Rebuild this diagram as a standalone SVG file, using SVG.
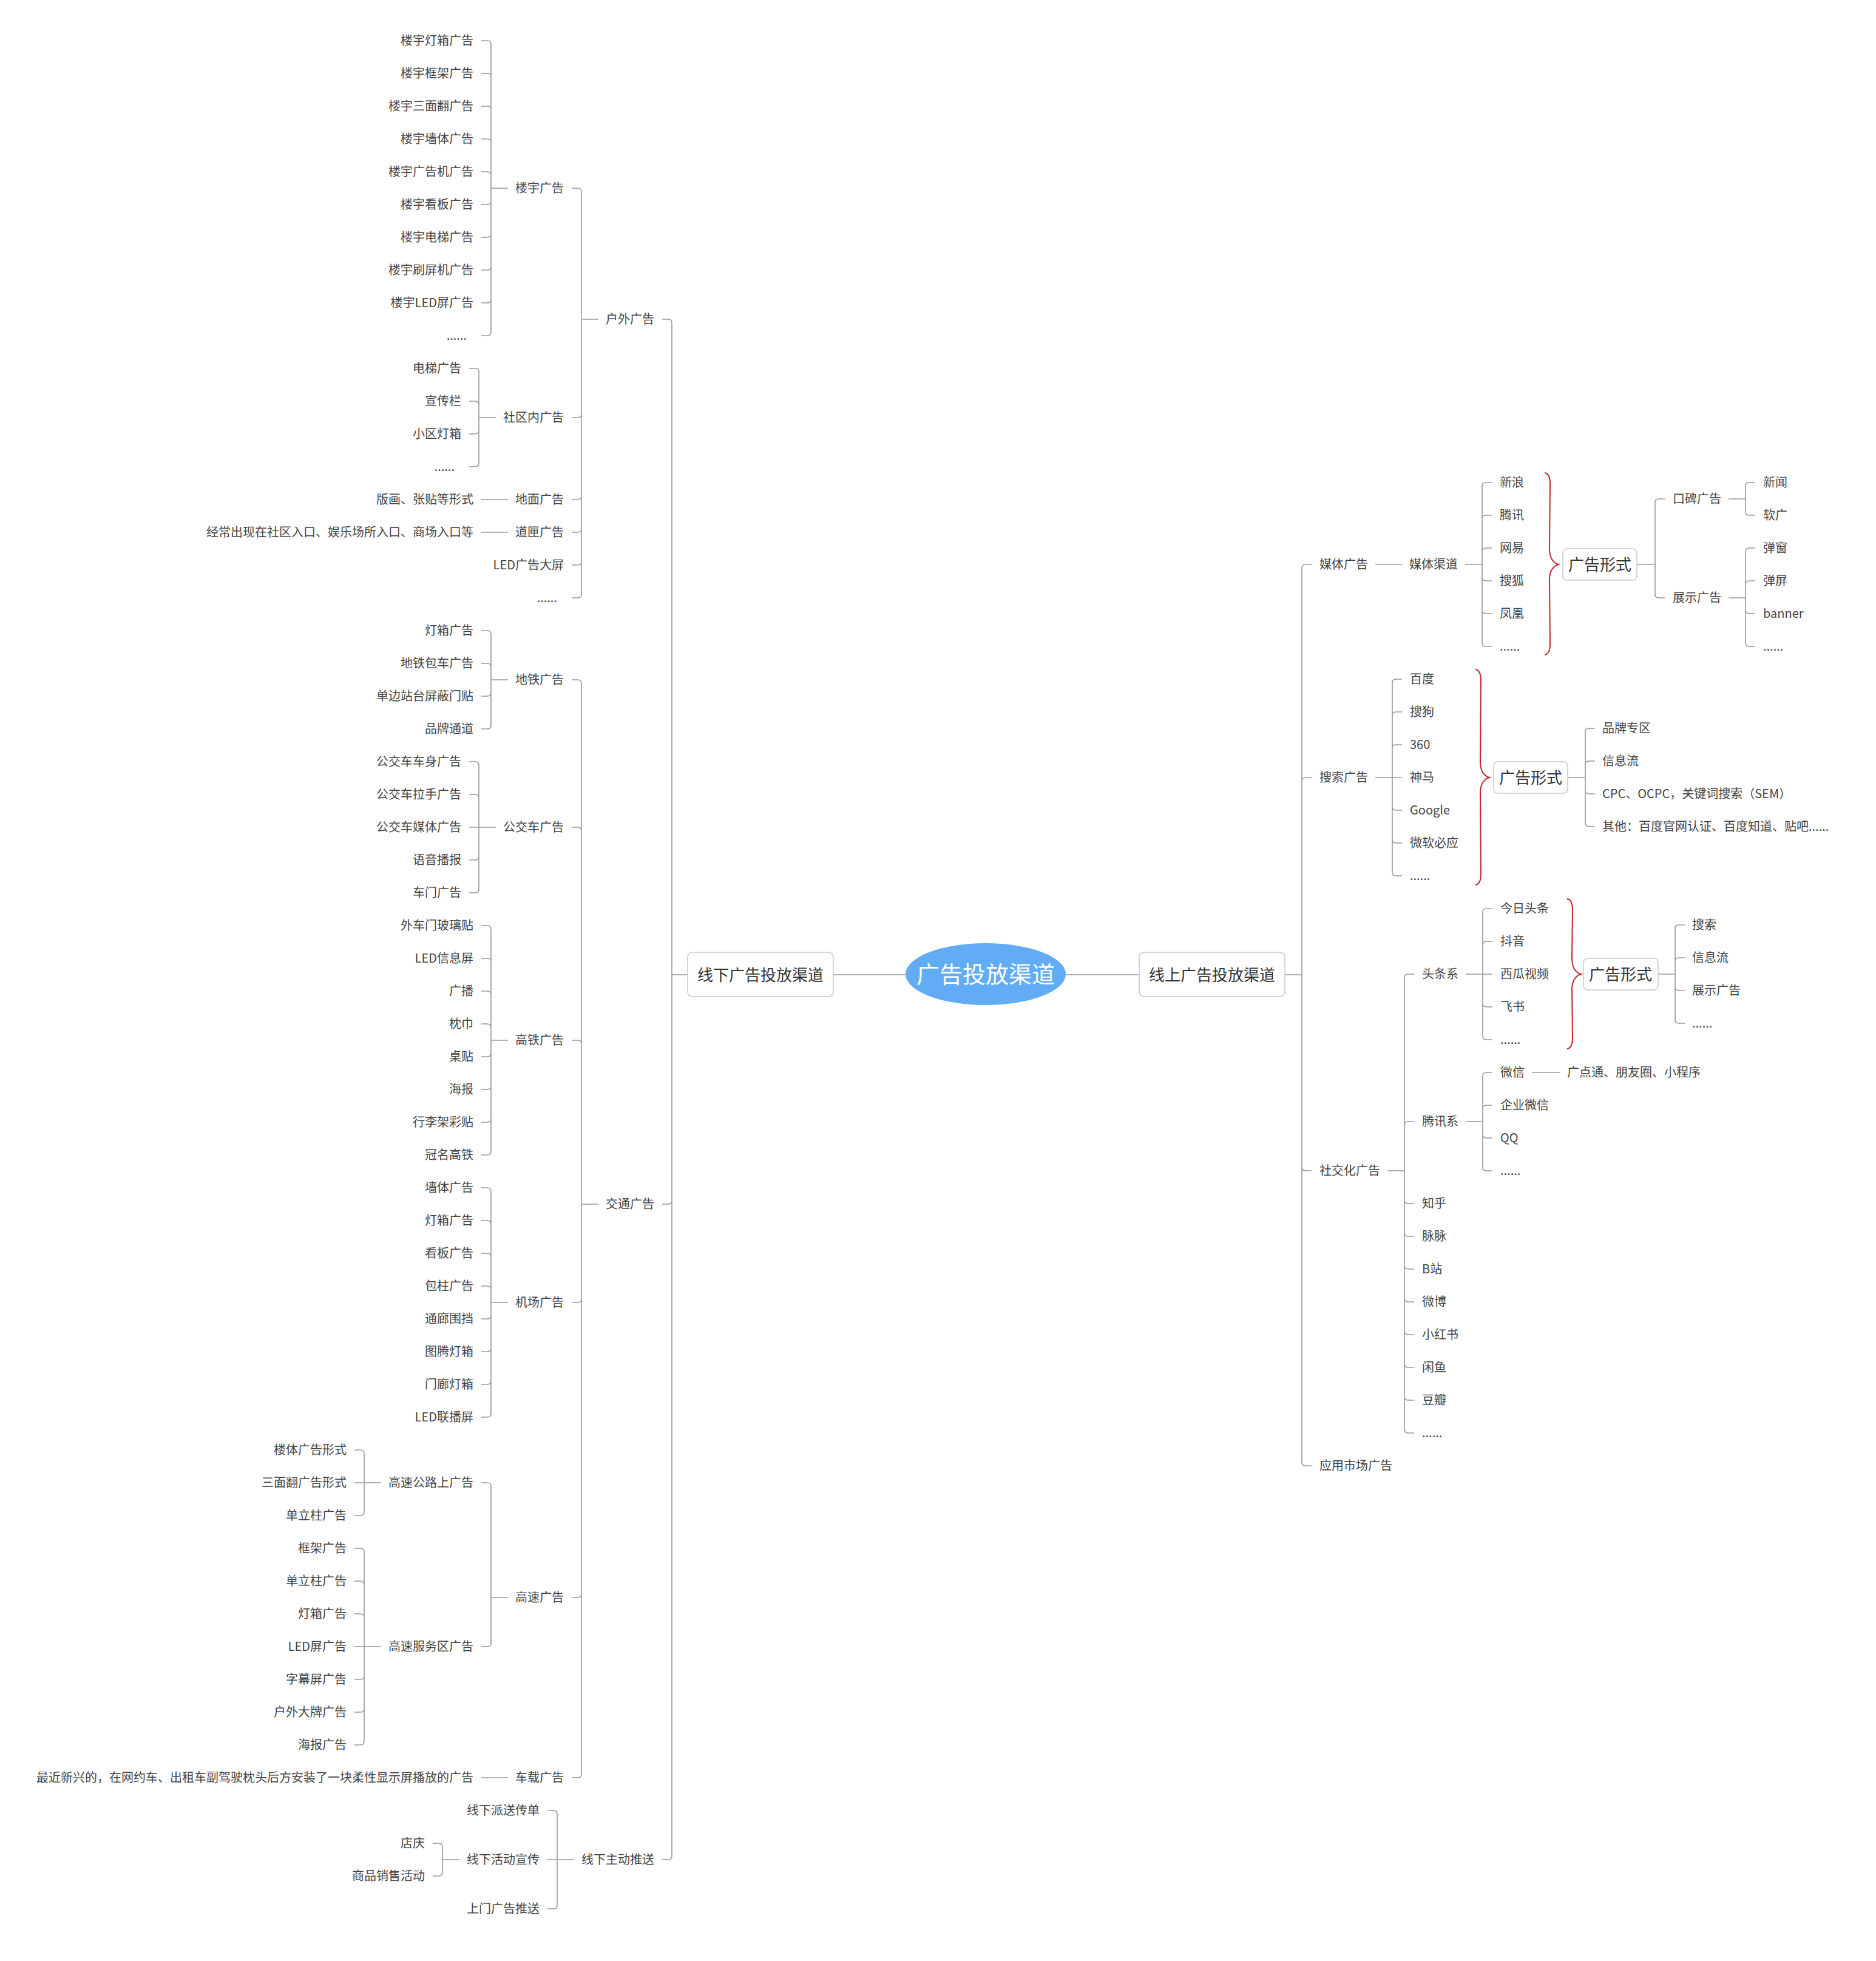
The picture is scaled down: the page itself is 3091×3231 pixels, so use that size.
<svg xmlns="http://www.w3.org/2000/svg" width="3091" height="3231" viewBox="0 0 3091 3231">
<style>
text{font-family:"Noto Sans CJK SC","Microsoft YaHei","Liberation Sans",sans-serif;fill:#444;font-size:20px}
.e{text-anchor:end}
.m{text-anchor:middle}
.big{font-size:26px;fill:#333}
.root{font-size:38px;fill:#fff}
.c{fill:none;stroke:#999;stroke-width:1.6}
.br{fill:none;stroke:#c1272d;stroke-width:2}
.box{fill:#fff;stroke:#c8c8c8;stroke-width:1.5}
</style>
<rect width="3091" height="3231" fill="#fff"/>
<g id="connectors">
<path class="c" d="M1373 1606H1492M1756 1606H1877"/>
<path class="c" d="M1133 1606H1107V532Q1107 526 1101 526H1091M1133 1606H1107V1978Q1107 1984 1101 1984H1091M1133 1606H1107V3058Q1107 3064 1101 3064H1091"/>
<path class="c" d="M986 526H958V316Q958 310 952 310H942M986 526H958V682Q958 688 952 688H942M986 526H958V817Q958 823 952 823H942M986 526H958V871Q958 877 952 877H942M986 526H958V925Q958 931 952 931H942M986 526H958V979Q958 985 952 985H942"/>
<path class="c" d="M837 310H809V73Q809 67 803 67H793M837 310H809V127Q809 121 803 121H793M837 310H809V181Q809 175 803 175H793M837 310H809V235Q809 229 803 229H793M837 310H809V289Q809 283 803 283H793M837 310H809V331Q809 337 803 337H793M837 310H809V385Q809 391 803 391H793M837 310H809V439Q809 445 803 445H793M837 310H809V493Q809 499 803 499H793M837 310H809V547Q809 553 803 553H793"/>
<path class="c" d="M817 688H789V613Q789 607 783 607H773M817 688H789V667Q789 661 783 661H773M817 688H789V709Q789 715 783 715H773M817 688H789V763Q789 769 783 769H773"/>
<path class="c" d="M837 823H793M837 877H793"/>
<path class="c" d="M986 1984H958V1126Q958 1120 952 1120H942M986 1984H958V1369Q958 1363 952 1363H942M986 1984H958V1720Q958 1714 952 1714H942M986 1984H958V2140Q958 2146 952 2146H942M986 1984H958V2626Q958 2632 952 2632H942M986 1984H958V2923Q958 2929 952 2929H942"/>
<path class="c" d="M837 1120H809V1045Q809 1039 803 1039H793M837 1120H809V1099Q809 1093 803 1093H793M837 1120H809V1141Q809 1147 803 1147H793M837 1120H809V1195Q809 1201 803 1201H793"/>
<path class="c" d="M817 1363H789V1261Q789 1255 783 1255H773M817 1363H789V1315Q789 1309 783 1309H773M817 1363H773M817 1363H789V1411Q789 1417 783 1417H773M817 1363H789V1465Q789 1471 783 1471H773"/>
<path class="c" d="M837 1714H809V1531Q809 1525 803 1525H793M837 1714H809V1585Q809 1579 803 1579H793M837 1714H809V1639Q809 1633 803 1633H793M837 1714H809V1693Q809 1687 803 1687H793M837 1714H809V1735Q809 1741 803 1741H793M837 1714H809V1789Q809 1795 803 1795H793M837 1714H809V1843Q809 1849 803 1849H793M837 1714H809V1897Q809 1903 803 1903H793"/>
<path class="c" d="M837 2146H809V1963Q809 1957 803 1957H793M837 2146H809V2017Q809 2011 803 2011H793M837 2146H809V2071Q809 2065 803 2065H793M837 2146H809V2125Q809 2119 803 2119H793M837 2146H809V2167Q809 2173 803 2173H793M837 2146H809V2221Q809 2227 803 2227H793M837 2146H809V2275Q809 2281 803 2281H793M837 2146H809V2329Q809 2335 803 2335H793"/>
<path class="c" d="M837 2632H809V2449Q809 2443 803 2443H793M837 2632H809V2707Q809 2713 803 2713H793"/>
<path class="c" d="M628 2443H600V2395Q600 2389 594 2389H584M628 2443H584M628 2443H600V2491Q600 2497 594 2497H584"/>
<path class="c" d="M628 2713H600V2557Q600 2551 594 2551H584M628 2713H600V2611Q600 2605 594 2605H584M628 2713H600V2665Q600 2659 594 2659H584M628 2713H584M628 2713H600V2761Q600 2767 594 2767H584M628 2713H600V2815Q600 2821 594 2821H584M628 2713H600V2869Q600 2875 594 2875H584"/>
<path class="c" d="M837 2929H793"/>
<path class="c" d="M946 3064H918V2989Q918 2983 912 2983H902M946 3064H902M946 3064H918V3139Q918 3145 912 3145H902"/>
<path class="c" d="M757 3064H729V3043Q729 3037 723 3037H713M757 3064H729V3085Q729 3091 723 3091H713"/>
<path class="c" d="M2117 1606H2145V936Q2145 930 2151 930H2161M2117 1606H2145V1287Q2145 1281 2151 1281H2161M2117 1606H2145V1923Q2145 1929 2151 1929H2161M2117 1606H2145V2409Q2145 2415 2151 2415H2161"/>
<path class="c" d="M2266 930H2310"/>
<path class="c" d="M2414 930H2442V801Q2442 795 2448 795H2458M2414 930H2442V855Q2442 849 2448 849H2458M2414 930H2442V909Q2442 903 2448 903H2458M2414 930H2442V951Q2442 957 2448 957H2458M2414 930H2442V1005Q2442 1011 2448 1011H2458M2414 930H2442V1059Q2442 1065 2448 1065H2458"/>
<path class="c" d="M2697 930H2727V828Q2727 822 2733 822H2743M2697 930H2727V979Q2727 985 2733 985H2743"/>
<path class="c" d="M2848 822H2876V801Q2876 795 2882 795H2892M2848 822H2876V843Q2876 849 2882 849H2892"/>
<path class="c" d="M2848 985H2876V909Q2876 903 2882 903H2892M2848 985H2876V963Q2876 957 2882 957H2892M2848 985H2876V1005Q2876 1011 2882 1011H2892M2848 985H2876V1059Q2876 1065 2882 1065H2892"/>
<path class="c" d="M2266 1281H2294V1125Q2294 1119 2300 1119H2310M2266 1281H2294V1179Q2294 1173 2300 1173H2310M2266 1281H2294V1233Q2294 1227 2300 1227H2310M2266 1281H2310M2266 1281H2294V1329Q2294 1335 2300 1335H2310M2266 1281H2294V1383Q2294 1389 2300 1389H2310M2266 1281H2294V1437Q2294 1443 2300 1443H2310"/>
<path class="c" d="M2583 1281H2612V1206Q2612 1200 2618 1200H2628M2583 1281H2612V1260Q2612 1254 2618 1254H2628M2583 1281H2612V1302Q2612 1308 2618 1308H2628M2583 1281H2612V1356Q2612 1362 2618 1362H2628"/>
<path class="c" d="M2286 1929H2314V1611Q2314 1605 2320 1605H2330M2286 1929H2314V1854Q2314 1848 2320 1848H2330M2286 1929H2314V1977Q2314 1983 2320 1983H2330M2286 1929H2314V2031Q2314 2037 2320 2037H2330M2286 1929H2314V2085Q2314 2091 2320 2091H2330M2286 1929H2314V2139Q2314 2145 2320 2145H2330M2286 1929H2314V2193Q2314 2199 2320 2199H2330M2286 1929H2314V2247Q2314 2253 2320 2253H2330M2286 1929H2314V2301Q2314 2307 2320 2307H2330M2286 1929H2314V2355Q2314 2361 2320 2361H2330"/>
<path class="c" d="M2415 1605H2443V1503Q2443 1497 2449 1497H2459M2415 1605H2443V1557Q2443 1551 2449 1551H2459M2415 1605H2459M2415 1605H2443V1653Q2443 1659 2449 1659H2459M2415 1605H2443V1707Q2443 1713 2449 1713H2459"/>
<path class="c" d="M2732 1605H2760V1530Q2760 1524 2766 1524H2776M2732 1605H2760V1584Q2760 1578 2766 1578H2776M2732 1605H2760V1626Q2760 1632 2766 1632H2776M2732 1605H2760V1680Q2760 1686 2766 1686H2776"/>
<path class="c" d="M2415 1848H2443V1773Q2443 1767 2449 1767H2459M2415 1848H2443V1827Q2443 1821 2449 1821H2459M2415 1848H2443V1869Q2443 1875 2449 1875H2459M2415 1848H2443V1923Q2443 1929 2449 1929H2459"/>
<path class="c" d="M2524 1767H2570"/>
<path class="br" d="M2545 779Q2554 780 2554 798L2553 906Q2554 926 2568 930Q2554 934 2553 954L2554 1060Q2554 1078 2545 1079"/>
<path class="br" d="M2431 1103Q2440 1104 2440 1122L2439 1257Q2440 1277 2454 1281Q2440 1285 2439 1305L2440 1440Q2440 1457 2431 1458"/>
<path class="br" d="M2582 1481Q2591 1482 2591 1500L2590 1581Q2591 1601 2605 1605Q2591 1609 2590 1629L2591 1710Q2591 1727 2582 1728"/>
</g>
<g id="root"><ellipse cx="1624" cy="1605" rx="132" ry="51" fill="#62acf5"/><text class="root m" x="1624" y="1619">广告投放渠道</text></g>
<g id="offline"><rect class="box" x="1133" y="1569" width="240" height="73" rx="8"/><text class="big m" x="1253" y="1616">线下广告投放渠道</text></g>
<g id="online"><rect class="box" x="1877" y="1569" width="240" height="73" rx="8"/><text class="big m" x="1997" y="1616">线上广告投放渠道</text></g>
<g id="off-outdoor"><text class="e" x="1078" y="533">户外广告</text></g>
<g id="off-traffic"><text class="e" x="1078" y="1991">交通广告</text></g>
<g id="off-active"><text class="e" x="1078" y="3071">线下主动推送</text></g>
<g id="od-building"><text class="e" x="929" y="317">楼宇广告</text></g>
<g id="od-building-1"><text class="e" x="780" y="74">楼宇灯箱广告</text></g>
<g id="od-building-2"><text class="e" x="780" y="128">楼宇框架广告</text></g>
<g id="od-building-3"><text class="e" x="780" y="182">楼宇三面翻广告</text></g>
<g id="od-building-4"><text class="e" x="780" y="236">楼宇墙体广告</text></g>
<g id="od-building-5"><text class="e" x="780" y="290">楼宇广告机广告</text></g>
<g id="od-building-6"><text class="e" x="780" y="344">楼宇看板广告</text></g>
<g id="od-building-7"><text class="e" x="780" y="398">楼宇电梯广告</text></g>
<g id="od-building-8"><text class="e" x="780" y="452">楼宇刷屏机广告</text></g>
<g id="od-building-9"><text class="e" x="780" y="506">楼宇LED屏广告</text></g>
<g id="od-building-10"><text class="e" x="769" y="560">......</text></g>
<g id="od-community"><text class="e" x="929" y="695">社区内广告</text></g>
<g id="od-community-1"><text class="e" x="760" y="614">电梯广告</text></g>
<g id="od-community-2"><text class="e" x="760" y="668">宣传栏</text></g>
<g id="od-community-3"><text class="e" x="760" y="722">小区灯箱</text></g>
<g id="od-community-4"><text class="e" x="749" y="776">......</text></g>
<g id="od-ground"><text class="e" x="929" y="830">地面广告</text></g>
<g id="od-ground-1"><text class="e" x="780" y="830">版画、张贴等形式</text></g>
<g id="od-gate"><text class="e" x="929" y="884">道匣广告</text></g>
<g id="od-gate-1"><text class="e" x="780" y="884">经常出现在社区入口、娱乐场所入口、商场入口等</text></g>
<g id="od-led"><text class="e" x="929" y="938">LED广告大屏</text></g>
<g id="od-more"><text class="e" x="918" y="992">......</text></g>
<g id="tr-metro"><text class="e" x="929" y="1127">地铁广告</text></g>
<g id="tr-metro-1"><text class="e" x="780" y="1046">灯箱广告</text></g>
<g id="tr-metro-2"><text class="e" x="780" y="1100">地铁包车广告</text></g>
<g id="tr-metro-3"><text class="e" x="780" y="1154">单边站台屏蔽门贴</text></g>
<g id="tr-metro-4"><text class="e" x="780" y="1208">品牌通道</text></g>
<g id="tr-bus"><text class="e" x="929" y="1370">公交车广告</text></g>
<g id="tr-bus-1"><text class="e" x="760" y="1262">公交车车身广告</text></g>
<g id="tr-bus-2"><text class="e" x="760" y="1316">公交车拉手广告</text></g>
<g id="tr-bus-3"><text class="e" x="760" y="1370">公交车媒体广告</text></g>
<g id="tr-bus-4"><text class="e" x="760" y="1424">语音播报</text></g>
<g id="tr-bus-5"><text class="e" x="760" y="1478">车门广告</text></g>
<g id="tr-rail"><text class="e" x="929" y="1721">高铁广告</text></g>
<g id="tr-rail-1"><text class="e" x="780" y="1532">外车门玻璃贴</text></g>
<g id="tr-rail-2"><text class="e" x="780" y="1586">LED信息屏</text></g>
<g id="tr-rail-3"><text class="e" x="780" y="1640">广播</text></g>
<g id="tr-rail-4"><text class="e" x="780" y="1694">枕巾</text></g>
<g id="tr-rail-5"><text class="e" x="780" y="1748">桌贴</text></g>
<g id="tr-rail-6"><text class="e" x="780" y="1802">海报</text></g>
<g id="tr-rail-7"><text class="e" x="780" y="1856">行李架彩贴</text></g>
<g id="tr-rail-8"><text class="e" x="780" y="1910">冠名高铁</text></g>
<g id="tr-air"><text class="e" x="929" y="2153">机场广告</text></g>
<g id="tr-air-1"><text class="e" x="780" y="1964">墙体广告</text></g>
<g id="tr-air-2"><text class="e" x="780" y="2018">灯箱广告</text></g>
<g id="tr-air-3"><text class="e" x="780" y="2072">看板广告</text></g>
<g id="tr-air-4"><text class="e" x="780" y="2126">包柱广告</text></g>
<g id="tr-air-5"><text class="e" x="780" y="2180">通廊围挡</text></g>
<g id="tr-air-6"><text class="e" x="780" y="2234">图腾灯箱</text></g>
<g id="tr-air-7"><text class="e" x="780" y="2288">门廊灯箱</text></g>
<g id="tr-air-8"><text class="e" x="780" y="2342">LED联播屏</text></g>
<g id="tr-hw"><text class="e" x="929" y="2639">高速广告</text></g>
<g id="tr-hw-road"><text class="e" x="780" y="2450">高速公路上广告</text></g>
<g id="tr-hw-road-1"><text class="e" x="571" y="2396">楼体广告形式</text></g>
<g id="tr-hw-road-2"><text class="e" x="571" y="2450">三面翻广告形式</text></g>
<g id="tr-hw-road-3"><text class="e" x="571" y="2504">单立柱广告</text></g>
<g id="tr-hw-svc"><text class="e" x="780" y="2720">高速服务区广告</text></g>
<g id="tr-hw-svc-1"><text class="e" x="571" y="2558">框架广告</text></g>
<g id="tr-hw-svc-2"><text class="e" x="571" y="2612">单立柱广告</text></g>
<g id="tr-hw-svc-3"><text class="e" x="571" y="2666">灯箱广告</text></g>
<g id="tr-hw-svc-4"><text class="e" x="571" y="2720">LED屏广告</text></g>
<g id="tr-hw-svc-5"><text class="e" x="571" y="2774">字幕屏广告</text></g>
<g id="tr-hw-svc-6"><text class="e" x="571" y="2828">户外大牌广告</text></g>
<g id="tr-hw-svc-7"><text class="e" x="571" y="2882">海报广告</text></g>
<g id="tr-car"><text class="e" x="929" y="2936">车载广告</text></g>
<g id="tr-car-1"><text class="e" x="780" y="2936">最近新兴的，在网约车、出租车副驾驶枕头后方安装了一块柔性显示屏播放的广告</text></g>
<g id="ac-flyer"><text class="e" x="889" y="2990">线下派送传单</text></g>
<g id="ac-event"><text class="e" x="889" y="3071">线下活动宣传</text></g>
<g id="ac-event-1"><text class="e" x="700" y="3044">店庆</text></g>
<g id="ac-event-2"><text class="e" x="700" y="3098">商品销售活动</text></g>
<g id="ac-door"><text class="e" x="889" y="3152">上门广告推送</text></g>
<g id="on-media"><text x="2174" y="937">媒体广告</text></g>
<g id="on-media-ch"><text x="2322" y="937">媒体渠道</text></g>
<g id="md-1"><text x="2471" y="802">新浪</text></g>
<g id="md-2"><text x="2471" y="856">腾讯</text></g>
<g id="md-3"><text x="2471" y="910">网易</text></g>
<g id="md-4"><text x="2471" y="964">搜狐</text></g>
<g id="md-5"><text x="2471" y="1018">凤凰</text></g>
<g id="md-6"><text x="2471" y="1072">......</text></g>
<g id="md-form"><rect class="box" x="2575" y="904" width="122" height="52" rx="7"/><text class="big m" x="2636" y="940">广告形式</text></g>
<g id="md-wom"><text x="2756" y="829">口碑广告</text></g>
<g id="md-wom-1"><text x="2905" y="802">新闻</text></g>
<g id="md-wom-2"><text x="2905" y="856">软广</text></g>
<g id="md-disp"><text x="2756" y="992">展示广告</text></g>
<g id="md-disp-1"><text x="2905" y="910">弹窗</text></g>
<g id="md-disp-2"><text x="2905" y="964">弹屏</text></g>
<g id="md-disp-3"><text x="2905" y="1018">banner</text></g>
<g id="md-disp-4"><text x="2905" y="1072">......</text></g>
<g id="on-search"><text x="2174" y="1288">搜索广告</text></g>
<g id="se-1"><text x="2323" y="1126">百度</text></g>
<g id="se-2"><text x="2323" y="1180">搜狗</text></g>
<g id="se-3"><text x="2323" y="1234">360</text></g>
<g id="se-4"><text x="2323" y="1288">神马</text></g>
<g id="se-5"><text x="2323" y="1342">Google</text></g>
<g id="se-6"><text x="2323" y="1396">微软必应</text></g>
<g id="se-7"><text x="2323" y="1450">......</text></g>
<g id="se-form"><rect class="box" x="2461" y="1255" width="122" height="52" rx="7"/><text class="big m" x="2522" y="1291">广告形式</text></g>
<g id="se-form-1"><text x="2640" y="1207">品牌专区</text></g>
<g id="se-form-2"><text x="2640" y="1261">信息流</text></g>
<g id="se-form-3"><text x="2640" y="1315">CPC、OCPC，关键词搜索（SEM）</text></g>
<g id="se-form-4"><text x="2640" y="1369">其他：百度官网认证、百度知道、贴吧......</text></g>
<g id="on-social"><text x="2174" y="1936">社交化广告</text></g>
<g id="so-tt"><text x="2343" y="1612">头条系</text></g>
<g id="tt-1"><text x="2472" y="1504">今日头条</text></g>
<g id="tt-2"><text x="2472" y="1558">抖音</text></g>
<g id="tt-3"><text x="2472" y="1612">西瓜视频</text></g>
<g id="tt-4"><text x="2472" y="1666">飞书</text></g>
<g id="tt-5"><text x="2472" y="1720">......</text></g>
<g id="tt-form"><rect class="box" x="2609" y="1579" width="123" height="52" rx="7"/><text class="big m" x="2670" y="1615">广告形式</text></g>
<g id="tt-form-1"><text x="2788" y="1531">搜索</text></g>
<g id="tt-form-2"><text x="2788" y="1585">信息流</text></g>
<g id="tt-form-3"><text x="2788" y="1639">展示广告</text></g>
<g id="tt-form-4"><text x="2788" y="1693">......</text></g>
<g id="so-tx"><text x="2343" y="1855">腾讯系</text></g>
<g id="tx-1"><text x="2472" y="1774">微信</text></g>
<g id="tx-1-1"><text x="2582" y="1774">广点通、朋友圈、小程序</text></g>
<g id="tx-2"><text x="2472" y="1828">企业微信</text></g>
<g id="tx-3"><text x="2472" y="1882">QQ</text></g>
<g id="tx-4"><text x="2472" y="1936">......</text></g>
<g id="so-zh"><text x="2343" y="1990">知乎</text></g>
<g id="so-mm"><text x="2343" y="2044">脉脉</text></g>
<g id="so-b"><text x="2343" y="2098">B站</text></g>
<g id="so-wb"><text x="2343" y="2152">微博</text></g>
<g id="so-xhs"><text x="2343" y="2206">小红书</text></g>
<g id="so-xy"><text x="2343" y="2260">闲鱼</text></g>
<g id="so-db"><text x="2343" y="2314">豆瓣</text></g>
<g id="so-more"><text x="2343" y="2368">......</text></g>
<g id="on-app"><text x="2174" y="2422">应用市场广告</text></g>
</svg>
